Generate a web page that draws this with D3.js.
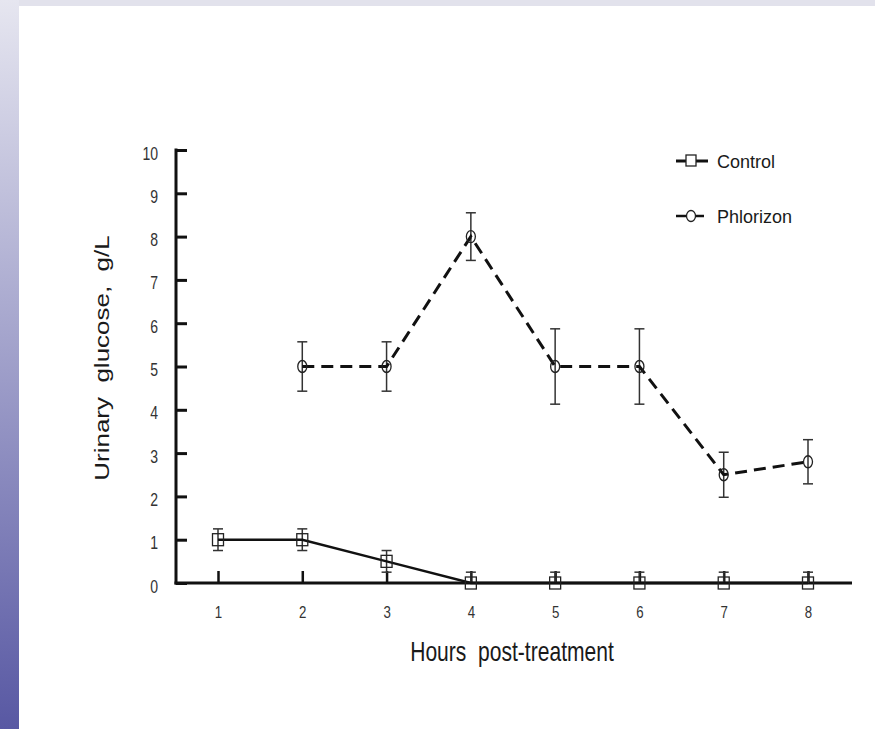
<!DOCTYPE html>
<html>
<head>
<meta charset="utf-8">
<script src="https://cdn.jsdelivr.net/npm/d3@7"></script>
<style>
  body { margin: 0; background: #fff; }
  text { font-family: "Liberation Sans", Arial, sans-serif; }
</style>
</head>
<body>
<svg id="chart" width="875" height="729"></svg>
<script>
// data
const hours = [1, 2, 3, 4, 5, 6, 7, 8]
const controlMean = [1, 1, 0.5, 0, 0, 0, 0, 0]
const controlErr = [0.25, 0.25, 0.25, 0.25, 0.25, 0.25, 0.25, 0.25]
const phlorHours = [2, 3, 4, 5, 6, 7, 8]
const phlorMean = [5, 5, 8, 5, 5, 2.5, 2.8]
const phlorErr = [0.57, 0.57, 0.55, 0.87, 0.87, 0.52, 0.51]
const yTicks = [0, 1, 2, 3, 4, 5, 6, 7, 8, 9, 10]
const legendNames = ["Control", "Phlorizon"]

const W = 875, H = 729
const squeeze = 0.78 // the original slide text looks squeezed sideways
const svg = d3.select("#chart")

// slide background: top strip + left gradient band
const defs = svg.append("defs")
const grad = defs.append("linearGradient").attr("id", "band")
    .attr("x1", 0).attr("y1", 0).attr("x2", 0).attr("y2", 1)
grad.append("stop").attr("offset", "0%").attr("stop-color", "#e6e6f0")
grad.append("stop").attr("offset", "100%").attr("stop-color", "#5858a3")
svg.append("rect").attr("x", 0).attr("y", 0).attr("width", W).attr("height", 6).attr("fill", "#e2e2ec")
svg.append("rect").attr("x", 0).attr("y", 0).attr("width", 19).attr("height", H).attr("fill", "url(#band)")

// scales
const x = d3.scaleLinear().domain([1, 8]).range([218, 808])
const y = d3.scaleLinear().domain([0, 10]).range([583, 150])
const x0 = 176, xEnd = 852

const g = svg.append("g")

// y axis, ticks pointing inwards
const yAxis = g.append("g").attr("transform", "translate(" + x0 + ",0)")
    .call(d3.axisLeft(y).tickValues(yTicks).tickSize(-11).tickFormat(d3.format("d")))
yAxis.select(".domain").remove()
yAxis.append("line").attr("x1", 0).attr("x2", 0).attr("y1", y(0) + 1.5).attr("y2", y(10) - 1.5)
    .attr("stroke", "#111").attr("stroke-width", 3)
yAxis.selectAll(".tick line").attr("stroke", "#111").attr("stroke-width", 3)
yAxis.selectAll(".tick text")
    .attr("x", 0).attr("dy", null).attr("text-anchor", "end")
    .attr("transform", "translate(-18,9) scale(" + squeeze + ",1)")
    .style("font-size", "18px").style("fill", "#333")

// x axis, ticks pointing up
const xAxis = g.append("g").attr("transform", "translate(0," + y(0) + ")")
    .call(d3.axisBottom(x).tickValues(hours).tickSize(-12).tickFormat(d3.format("d")))
xAxis.select(".domain").remove()
xAxis.append("line").attr("x1", x0 - 1.5).attr("x2", xEnd).attr("y1", 0).attr("y2", 0)
    .attr("stroke", "#111").attr("stroke-width", 3)
xAxis.selectAll(".tick line").attr("stroke", "#111").attr("stroke-width", 2.5)
xAxis.selectAll(".tick text")
    .attr("y", 0).attr("dy", null).attr("text-anchor", "middle")
    .attr("transform", "translate(0,35) scale(" + squeeze + ",1)")
    .style("font-size", "17px").style("fill", "#333")

// axis titles
svg.append("text").attr("transform", "translate(512,661) scale(" + squeeze + ",1)")
    .attr("text-anchor", "middle").style("font-size", "27px").style("fill", "#1a1a1a")
    .style("white-space", "pre").text("Hours  post-treatment")
svg.append("text").attr("transform", "translate(109,358) scale(" + squeeze + ",1) rotate(-90)")
    .attr("text-anchor", "middle").style("font-size", "26px").style("fill", "#1a1a1a")
    .style("white-space", "pre").text("Urinary  glucose,  g/L")

// error bars
function errBars(xs, ms, es) {
  const eb = g.append("g").attr("stroke", "#333").attr("stroke-width", 1.5)
  xs.forEach(function(h, i) {
    const cx = x(h), top = y(ms[i] + es[i]), bot = y(Math.max(ms[i] - es[i], 0))
    eb.append("line").attr("x1", cx).attr("x2", cx).attr("y1", top).attr("y2", bot)
    eb.append("line").attr("x1", cx - 5).attr("x2", cx + 5).attr("y1", top).attr("y2", top)
    if (ms[i] - es[i] > 0)
      eb.append("line").attr("x1", cx - 5).attr("x2", cx + 5).attr("y1", bot).attr("y2", bot)
  })
}
errBars(hours, controlMean, controlErr)
errBars(phlorHours, phlorMean, phlorErr)

const line = d3.line().x(function(d) { return x(d[0]) }).y(function(d) { return y(d[1]) })

// control: solid line + squares
g.append("path").datum(hours.map(function(h, i) { return [h, controlMean[i]] }))
    .attr("d", line).attr("fill", "none").attr("stroke", "#111").attr("stroke-width", 2.5)
g.selectAll(".sq").data(hours).enter().append("rect")
    .attr("x", function(h) { return x(h) - 5.5 })
    .attr("y", function(h, i) { return y(controlMean[i]) - 6 })
    .attr("width", 11).attr("height", 12)
    .attr("fill", "none").attr("stroke", "#222").attr("stroke-width", 1.3)

// phlorizon: dashed line + circles
g.append("path").datum(phlorHours.map(function(h, i) { return [h, phlorMean[i]] }))
    .attr("d", line).attr("fill", "none").attr("stroke", "#111").attr("stroke-width", 3)
    .attr("stroke-dasharray", "12,7")
g.selectAll(".circ").data(phlorHours).enter().append("ellipse")
    .attr("cx", function(h) { return x(h) })
    .attr("cy", function(h, i) { return y(phlorMean[i]) })
    .attr("rx", 4.5).attr("ry", 6)
    .attr("fill", "none").attr("stroke", "#222").attr("stroke-width", 1.3)

// legend
const lg = svg.append("g")
lg.append("line").attr("x1", 676).attr("x2", 708).attr("y1", 161).attr("y2", 161)
    .attr("stroke", "#111").attr("stroke-width", 3)
lg.append("rect").attr("x", 686).attr("y", 155).attr("width", 10).attr("height", 11)
    .attr("fill", "#fff").attr("stroke", "#222").attr("stroke-width", 1.3)
lg.append("text").attr("x", 717).attr("y", 168).style("font-size", "18px").style("fill", "#1a1a1a")
    .text(legendNames[0])
lg.append("line").attr("x1", 676).attr("x2", 704).attr("y1", 216).attr("y2", 216)
    .attr("stroke", "#111").attr("stroke-width", 2.5)
lg.append("ellipse").attr("cx", 691).attr("cy", 216).attr("rx", 4.5).attr("ry", 5.5)
    .attr("fill", "#fff").attr("stroke", "#222").attr("stroke-width", 1.3)
lg.append("text").attr("x", 717).attr("y", 223).style("font-size", "18px").style("fill", "#1a1a1a")
    .text(legendNames[1])
</script>
</body>
</html>
